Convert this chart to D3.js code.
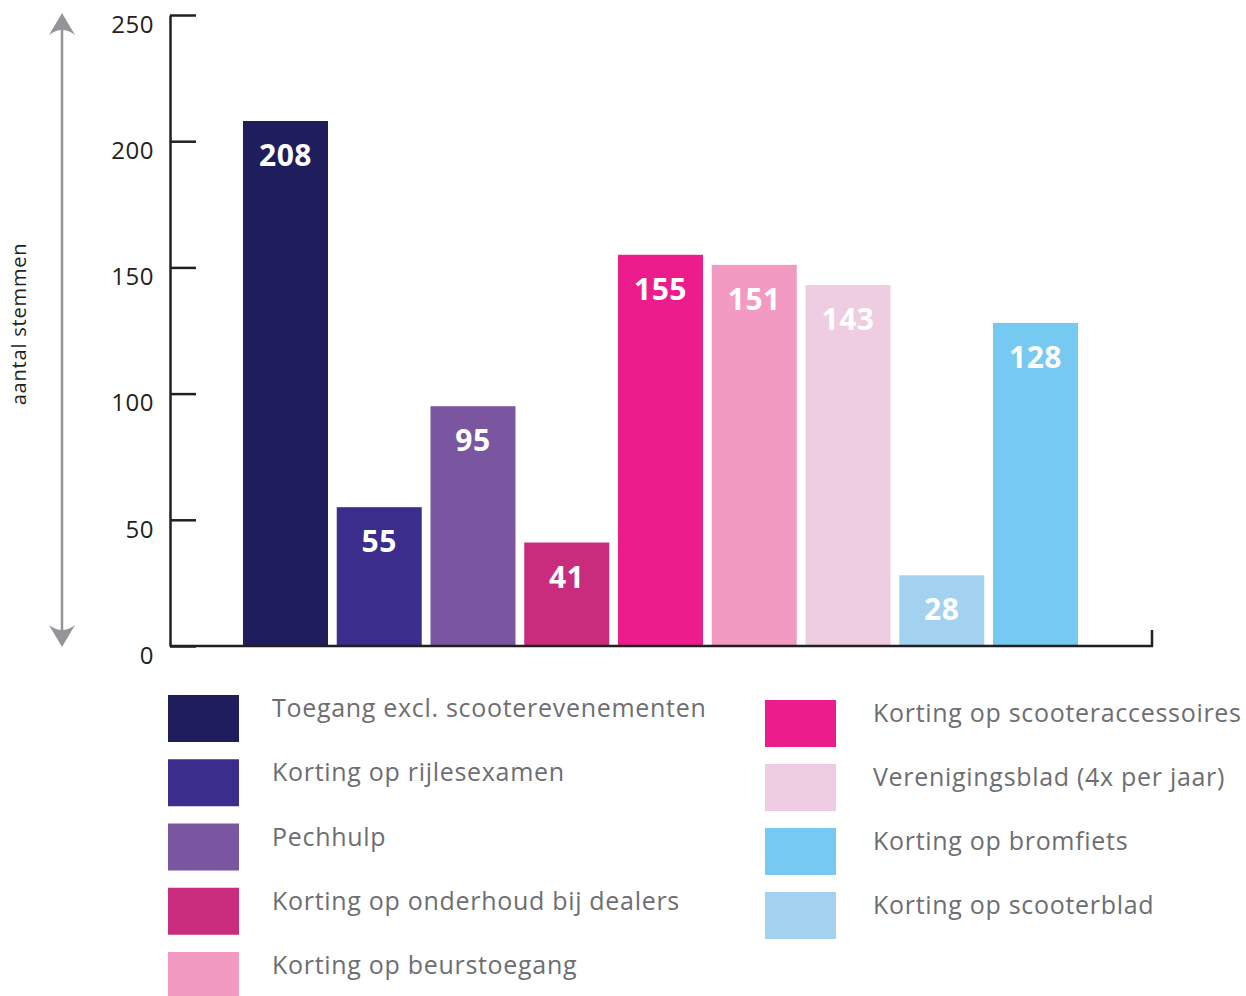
<!DOCTYPE html>
<html>
<head>
<meta charset="utf-8">
<script src="https://cdn.jsdelivr.net/npm/d3@7/dist/d3.min.js"></script>
<style>
  html, body { margin: 0; padding: 0; background: #fff; }
  svg { display: block; }
</style>
</head>
<body>
<svg id="chart" width="1246" height="996"></svg>
<script>
// ---- Data ----
const categories = [
  "Toegang excl. scooterevenementen",
  "Korting op rijlesexamen",
  "Pechhulp",
  "Korting op onderhoud bij dealers",
  "Korting op scooteraccessoires",
  "Korting op beurstoegang",
  "Verenigingsblad (4x per jaar)",
  "Korting op scooterblad",
  "Korting op bromfiets"
];
const values = [208, 55, 95, 41, 155, 151, 143, 28, 128];
const colors = ["#1f1d5b", "#3b2d8b", "#7a56a0", "#c92b7d", "#ec1c8c", "#f39ac2", "#eecde2", "#a3d2f1", "#76c9f0"];
const yTicks = [0, 50, 100, 150, 200, 250];
const legendLeft = [
  "Toegang excl. scooterevenementen",
  "Korting op rijlesexamen",
  "Pechhulp",
  "Korting op onderhoud bij dealers",
  "Korting op beurstoegang"
];
const legendRight = [
  "Korting op scooteraccessoires",
  "Verenigingsblad (4x per jaar)",
  "Korting op bromfiets",
  "Korting op scooterblad"
];
const axisLabel = "aantal stemmen";

// ---- Setup ----
const svg = d3.select("#chart");
const font = "'Open Sans', 'Noto Sans', sans-serif";
const colorOf = d3.scaleOrdinal().domain(categories).range(colors);

const y = d3.scaleLinear().domain([0, 250]).range([646, 15]);
const x = d3.scaleBand().domain(categories).range([238.6, 1082.4])
  .paddingInner(0.0933).paddingOuter(0.0467);

// Bars
svg.append("g").selectAll("rect").data(values).join("rect")
  .attr("x", (d, i) => x(categories[i]))
  .attr("width", x.bandwidth())
  .attr("y", d => y(d))
  .attr("height", d => y(0) - y(d))
  .attr("fill", (d, i) => colorOf(categories[i]));

// Value labels
svg.append("g").selectAll("text").data(values).join("text")
  .attr("x", (d, i) => x(categories[i]) + x.bandwidth() / 2)
  .attr("y", d => y(d) + 45)
  .attr("text-anchor", "middle")
  .attr("fill", "#ffffff")
  .attr("font-family", font)
  .attr("font-weight", "bold")
  .attr("font-size", "30px")
  .attr("letter-spacing", "0.5px")
  .text(d => d);

// Y axis
const yAxis = d3.axisLeft(y).tickValues(yTicks).tickSizeInner(-26).tickSizeOuter(0).tickPadding(16);
const gy = svg.append("g").attr("transform", "translate(170,0)").call(yAxis);
gy.select(".domain").attr("stroke", "#231f20").attr("stroke-width", 2.5);
gy.selectAll(".tick line").attr("stroke", "#231f20").attr("stroke-width", 2.5);
gy.selectAll(".tick text")
  .attr("font-family", font)
  .attr("font-size", "24px")
  .attr("letter-spacing", "0.5px")
  .attr("fill", "#231f20")
  .attr("dy", "0.72em");

// X axis baseline + end tick
svg.append("path")
  .attr("d", `M${170},${y(0)}H${1152}V${630}`)
  .attr("fill", "none")
  .attr("stroke", "#231f20")
  .attr("stroke-width", 2.5);

// Double-headed arrow
const ax = 62, aTop = 13, aBot = 647;
svg.append("line")
  .attr("x1", ax).attr("x2", ax).attr("y1", aTop + 10).attr("y2", aBot - 10)
  .attr("stroke", "#939598").attr("stroke-width", 2.5);
svg.append("path")
  .attr("d", `M${ax},${aTop} L${ax + 13},${aTop + 22} Q${ax},${aTop + 12} ${ax - 13},${aTop + 22} Z`)
  .attr("fill", "#939598");
svg.append("path")
  .attr("d", `M${ax},${aBot} L${ax + 13},${aBot - 22} Q${ax},${aBot - 12} ${ax - 13},${aBot - 22} Z`)
  .attr("fill", "#939598");

// Axis label
svg.append("text")
  .attr("transform", "translate(26,324) rotate(-90)")
  .attr("text-anchor", "middle")
  .attr("font-family", font)
  .attr("font-size", "20px")
  .attr("letter-spacing", "0.8px")
  .attr("fill", "#231f20")
  .text(axisLabel);

// Legend
function legend(items, x0, y0, step, tx) {
  const g = svg.append("g");
  const rows = g.selectAll("g").data(items).join("g")
    .attr("transform", (d, i) => `translate(${x0},${y0 + i * step})`);
  rows.append("rect")
    .attr("width", 71).attr("height", 47)
    .attr("fill", d => colorOf(d));
  rows.append("text")
    .attr("x", tx).attr("y", 22)
    .attr("font-family", font)
    .attr("font-size", "25px")
    .attr("letter-spacing", "0.7px")
    .attr("fill", "#6d6e71")
    .text(d => d);
}
legend(legendLeft, 168, 695, 64.25, 104);
legend(legendRight, 765, 700, 64, 108);
</script>
</body>
</html>
